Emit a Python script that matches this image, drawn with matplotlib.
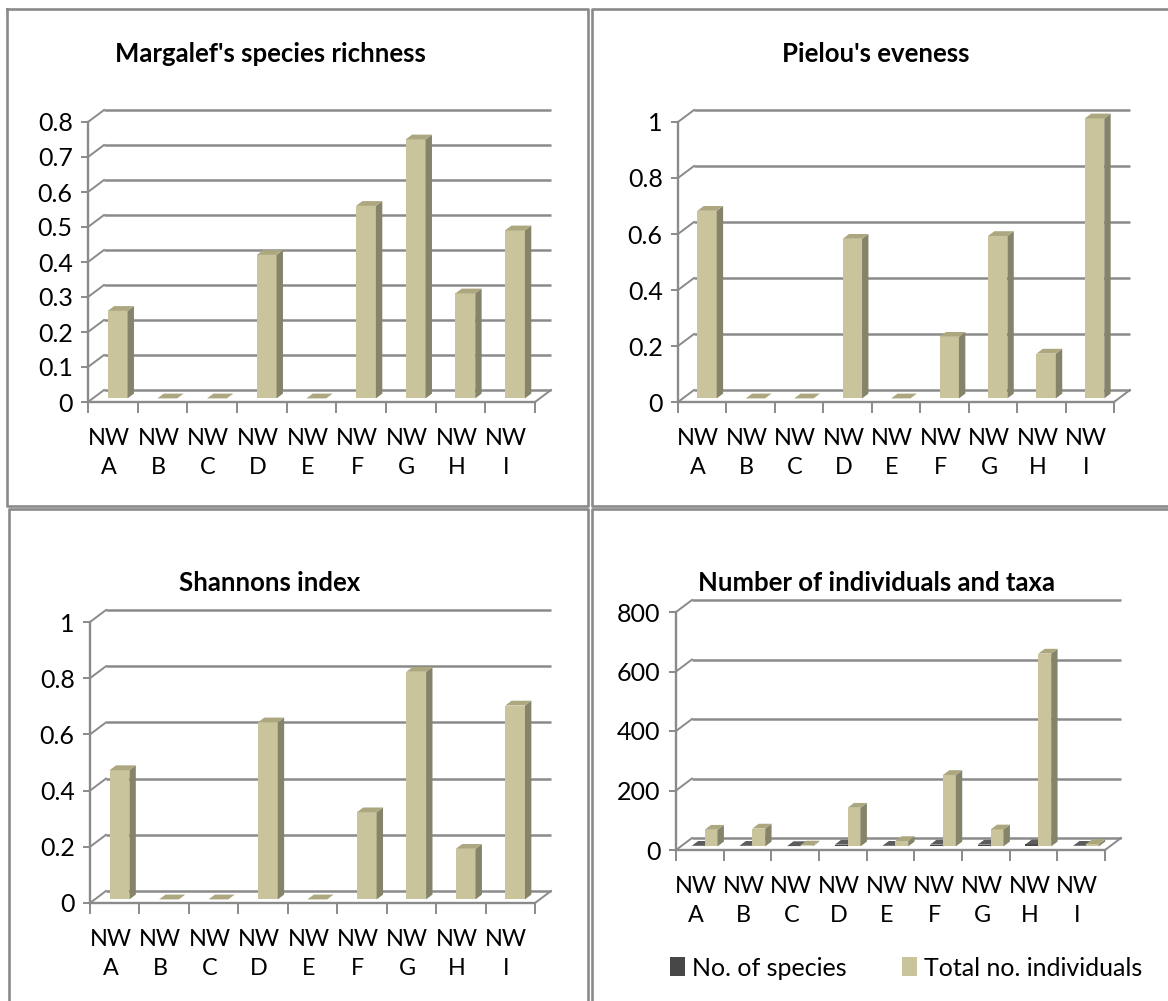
import matplotlib
matplotlib.use("Agg")
import matplotlib.pyplot as plt
from matplotlib.patches import Polygon, Patch
from matplotlib.lines import Line2D

plt.rcParams['font.family'] = ['Lato', 'DejaVu Sans']

# ---- data -------------------------------------------------------------
sites = ["NW\nA", "NW\nB", "NW\nC", "NW\nD", "NW\nE",
         "NW\nF", "NW\nG", "NW\nH", "NW\nI"]
margalef = [0.25, 0.0, 0.0, 0.41, 0.0, 0.55, 0.74, 0.30, 0.48]
pielou = [0.67, 0.0, 0.0, 0.57, 0.0, 0.22, 0.58, 0.16, 1.0]
shannon = [0.46, 0.0, 0.0, 0.63, 0.0, 0.31, 0.81, 0.18, 0.69]
n_species = [2, 2, 1, 6, 2, 6, 6, 7, 2]
n_individuals = [56, 60, 3, 130, 18, 240, 57, 648, 8]

margalef_ticks = [0, 0.1, 0.2, 0.3, 0.4, 0.5, 0.6, 0.7, 0.8]
margalef_labels = ["0", "0.1", "0.2", "0.3", "0.4", "0.5", "0.6", "0.7", "0.8"]
unit_ticks = [0, 0.2, 0.4, 0.6, 0.8, 1.0]
unit_labels = ["0", "0.2", "0.4", "0.6", "0.8", "1"]
count_ticks = [0, 200, 400, 600, 800]
count_labels = ["0", "200", "400", "600", "800"]

# ---- styling ----------------------------------------------------------
W, H, DPI = 1168, 1001, 100
GRID = "#8a8a8a"
BORDER = "#8a8a8a"
TAN = ("#cac49c", "#85846a", "#aca77f")      # front, side, top
DARK = ("#474747", "#262626", "#5c5c5c")
YTICK_SIZE = 18
XTICK_SIZE = 16.8
TITLE_SIZE = 18.5

fig = plt.figure(figsize=(W / DPI, H / DPI), dpi=DPI)


def px_axes(x0, x1, yzero, ytop):
    return fig.add_axes([x0 / W, 1 - yzero / H, (x1 - x0) / W, (yzero - ytop) / H])


def draw_panel(x0, x1, yzero, ytop, ymax, yticks, ylabels, series, styles,
               depth=(16, 12), bar_w=0.40):
    ax = px_axes(x0, x1, yzero, ytop)
    n = len(sites)
    ax.set_xlim(0, n)
    ax.set_ylim(0, ymax)
    ax.patch.set_alpha(0)
    ddx = depth[0] / ((x1 - x0) / n)
    ddy = depth[1] / ((yzero - ytop) / ymax)

    # side wall and back wall gridlines
    for v in yticks:
        ax.plot([ddx, n + ddx], [v + ddy, v + ddy], color=GRID, lw=1.8,
                clip_on=False, zorder=1, solid_capstyle="butt")
        ax.plot([0, ddx], [v, v + ddy], color=GRID, lw=1.4,
                clip_on=False, zorder=1)
    ax.plot([n, n + ddx], [0, ddy], color=GRID, lw=1.4, clip_on=False, zorder=1)

    # 3-D columns, sitting mid-way into the floor depth
    f0, f1 = 0.30, 0.70
    nser = len(series)
    for s, (vals, (cf, cs, ct)) in enumerate(zip(series, styles)):
        for i, v in enumerate(vals):
            xl = i + 0.5 - nser * bar_w / 2 + s * bar_w
            xr = xl + bar_w
            ax.bar(xl + f0 * ddx, v, width=bar_w, bottom=f0 * ddy, align="edge",
                   color=cf, edgecolor="none", zorder=3 + s, clip_on=False)
            side = [(xr + f0 * ddx, f0 * ddy), (xr + f1 * ddx, f1 * ddy),
                    (xr + f1 * ddx, v + f1 * ddy), (xr + f0 * ddx, v + f0 * ddy)]
            top = [(xl + f0 * ddx, v + f0 * ddy), (xr + f0 * ddx, v + f0 * ddy),
                   (xr + f1 * ddx, v + f1 * ddy), (xl + f1 * ddx, v + f1 * ddy)]
            ax.add_patch(Polygon(side, closed=True, facecolor=cs, edgecolor="none",
                                 zorder=3 + s, clip_on=False))
            ax.add_patch(Polygon(top, closed=True, facecolor=ct, edgecolor="none",
                                 zorder=3 + s, clip_on=False))

    for sp in ("top", "right"):
        ax.spines[sp].set_visible(False)
    for sp in ("left", "bottom"):
        ax.spines[sp].set_color(GRID)
        ax.spines[sp].set_linewidth(1.7)
        ax.spines[sp].set_zorder(2)

    ax.set_yticks(yticks)
    ax.set_yticklabels(ylabels)
    ax.tick_params(axis="y", direction="out", length=5, width=1.4, color=GRID,
                   labelsize=YTICK_SIZE, pad=6)
    # category names sit a little left of the column centres
    ax.set_xticks([i + 0.42 for i in range(n)])
    ax.set_xticklabels(sites, linespacing=1.42)
    ax.set_xticks(list(range(n + 1)), minor=True)
    ax.tick_params(axis="x", which="major", length=0, labelsize=XTICK_SIZE, pad=19)
    ax.tick_params(axis="x", which="minor", direction="out", length=8,
                   width=1.4, color=GRID)
    return ax


# ---- panel frames -----------------------------------------------------
def frame_line(xs, ys):
    fig.add_artist(Line2D([x / W for x in xs], [1 - y / H for y in ys],
                          color=BORDER, lw=1.9, transform=fig.transFigure))


frame_line([7, 588, 588, 7, 7], [9, 9, 506, 506, 9])
frame_line([1175, 592, 592, 1175], [9, 9, 506, 506])
frame_line([9, 9, 588, 588], [1010, 509, 509, 1010])
frame_line([1175, 592, 592], [509, 509, 1010])

# ---- titles -----------------------------------------------------------
titles = [("Margalef's species richness", 270, 54),
          ("Pielou's eveness", 876, 54),
          ("Shannons index", 270, 583),
          ("Number of individuals and taxa", 876, 583)]
for txt, cx, cy in titles:
    fig.text(cx / W, 1 - cy / H, txt, ha="center", va="center",
             fontsize=TITLE_SIZE, fontweight="bold")

# ---- charts -----------------------------------------------------------
draw_panel(88, 535, 402, 122, 0.8, margalef_ticks, margalef_labels,
           [margalef], [TAN])
draw_panel(678, 1114, 402, 122, 1.0, unit_ticks, unit_labels,
           [pielou], [TAN])
draw_panel(90, 535, 903, 622, 1.0, unit_ticks, unit_labels,
           [shannon], [TAN])
draw_panel(676, 1105, 850, 612, 800, count_ticks, count_labels,
           [n_species, n_individuals], [DARK, TAN], bar_w=0.27)

handles = [Patch(facecolor=DARK[0], label="No. of species"),
           Patch(facecolor=TAN[0], label="Total no. individuals")]
fig.legend(handles=handles, loc="center", ncol=2, frameon=False,
           bbox_to_anchor=(906 / W, 1 - 968 / H), fontsize=YTICK_SIZE,
           handlelength=0.6, handleheight=0.8, handletextpad=0.3,
           columnspacing=2.2)

fig.savefig("out.png", dpi=DPI)
